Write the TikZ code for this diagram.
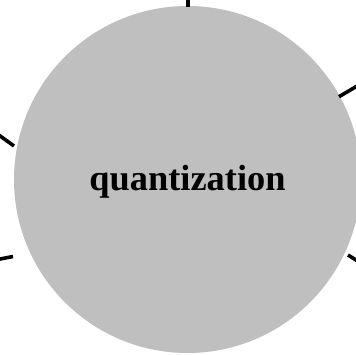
\documentclass[tikz,border=0pt]{standalone}
\usepackage{fontspec}
\setmainfont{Liberation Serif}
\usepackage{tikz}
\usetikzlibrary{positioning, calc}
\definecolor{bubbleGray}{RGB}{191,191,191}
\definecolor{ink}{RGB}{0,0,0}

\begin{document}
\begin{tikzpicture}[
  x=1pt, y=1pt,
  topic/.style={circle, fill=bubbleGray, draw=none, minimum size=347pt, inner sep=0pt,
    text=ink, font=\bfseries\fontsize{36.4}{40}\selectfont, text height=22.4pt, text depth=0pt},
  stub/.style={line width=3.6pt, draw=ink}
]
\useasboundingbox (0,0) rectangle (356,354);
\clip (0,0) rectangle (356,354);
\node[topic] (q) at (187.5,174.5) {quantization};
\foreach \i/\ax/\ay/\bx/\by in {
  1/188/347/188/358,
  2/14/208/-4/221,
  3/13/97.5/-4/94.2,
  4/339/257.3/360/269.7,
  5/348/99/360/91.5
}{
  \coordinate (s\i) at (\ax,\ay);
  \coordinate (e\i) at (\bx,\by);
  \draw[stub] (s\i) -- (e\i);
}
\end{tikzpicture}
\end{document}
